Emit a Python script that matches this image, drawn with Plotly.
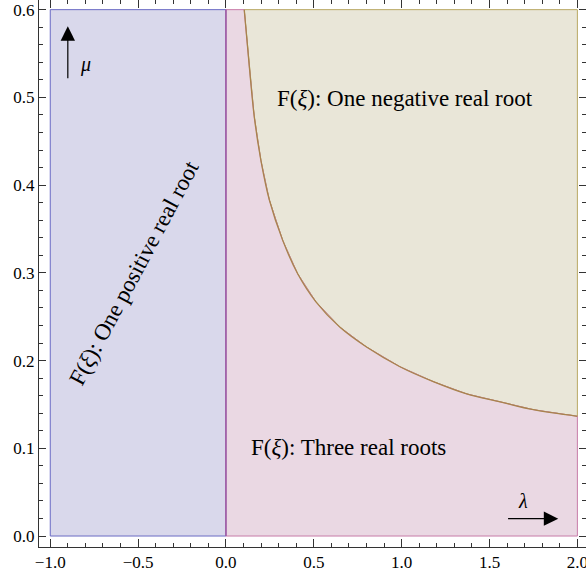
import plotly.graph_objects as go

# Region boundary
lam_curve = [0.104, 0.133, 0.161, 0.199, 0.247, 0.323, 0.408, 0.512, 0.649, 0.80, 0.99, 1.18, 1.37, 1.56, 1.75, 2.0]
mu_curve = [0.600, 0.535, 0.478, 0.428, 0.383, 0.337, 0.299, 0.267, 0.238, 0.2155, 0.193, 0.176, 0.162, 0.153, 0.144, 0.1365]

lam_min, lam_max = -1.0, 2.0
mu_min, mu_max = 0.0, 0.6

x_ticks = [-1.0, -0.5, 0.0, 0.5, 1.0, 1.5, 2.0]
x_ticklabels = ["\u22121.0", "\u22120.5", "0.0", "0.5", "1.0", "1.5", "2.0"]
y_ticks = [0.0, 0.1, 0.2, 0.3, 0.4, 0.5, 0.6]
y_ticklabels = ["0.0", "0.1", "0.2", "0.3", "0.4", "0.5", "0.6"]

FONT = "Liberation Serif, Times New Roman, serif"

fig = go.Figure()

# Region 1: lambda < 0 (lavender)
fig.add_trace(go.Scatter(
    x=[lam_min, 0.0, 0.0, lam_min, lam_min],
    y=[mu_min, mu_min, mu_max, mu_max, mu_min],
    fill="toself", fillcolor="#D9D8EB", mode="lines",
    line=dict(color="#6A6AC4", width=1), hoverinfo="skip", showlegend=False))

# Region 3: above curve (beige)
bx = lam_curve + [lam_max, lam_curve[0]]
by = mu_curve + [mu_max, mu_max]
fig.add_trace(go.Scatter(
    x=bx, y=by, fill="toself", fillcolor="#E9E6D8", mode="lines",
    line=dict(color="#B9A862", width=1), hoverinfo="skip", showlegend=False))

# Region 2: below curve (pink)
px_ = [0.0, lam_max] + lam_curve[::-1] + [0.0, 0.0]
py_ = [mu_min, mu_min] + mu_curve[::-1] + [mu_max, mu_min]
fig.add_trace(go.Scatter(
    x=px_, y=py_, fill="toself", fillcolor="#EAD8E3", mode="lines",
    line=dict(color="#C87BA8", width=1), hoverinfo="skip", showlegend=False))

# Boundary curve
fig.add_trace(go.Scatter(
    x=lam_curve, y=mu_curve, mode="lines", line=dict(color="#A8844C", width=1.3, shape="spline"),
    hoverinfo="skip", showlegend=False))
# Lambda = 0 boundary
fig.add_trace(go.Scatter(
    x=[0.0, 0.0], y=[mu_min, mu_max], mode="lines", line=dict(color="#9A5AA6", width=1.5),
    hoverinfo="skip", showlegend=False))

tf = dict(family=FONT, size=23, color="black")
fig.add_annotation(x=1.02, y=0.499, text="F(<i>\u03be</i>): One negative real root",
                   showarrow=False, font=tf)
fig.add_annotation(x=0.695, y=0.101, text="F(<i>\u03be</i>): Three real roots",
                   showarrow=False, font=tf)
fig.add_annotation(x=-0.52, y=0.30, text="F(<i>\u03be</i>): One positive real root",
                   showarrow=False, font=tf, textangle=-62)

# Axis arrows
fig.add_annotation(x=-0.9, y=0.581, ax=-0.9, ay=0.52, xref="x", yref="y", axref="x", ayref="y",
                   text="", showarrow=True, arrowhead=2, arrowsize=2.4, arrowwidth=1.2, arrowcolor="black")
fig.add_annotation(x=-0.8, y=0.537, text="<i>\u03bc</i>", showarrow=False,
                   font=dict(family=FONT, size=20, color="black"))
fig.add_annotation(x=1.891, y=0.0198, ax=1.597, ay=0.0198, xref="x", yref="y", axref="x", ayref="y",
                   text="", showarrow=True, arrowhead=2, arrowsize=2.4, arrowwidth=1.2, arrowcolor="black")
fig.add_annotation(x=1.693, y=0.04, text="<i>\u03bb</i>", showarrow=False,
                   font=dict(family=FONT, size=20, color="black"))

axis_common = dict(showgrid=False, zeroline=False, showline=True, mirror="ticks",
                   linecolor="#333333", linewidth=1, ticks="inside", tickcolor="#333333",
                   automargin=False, ticklabeloverflow="allow",
                   tickfont=dict(family=FONT, size=17, color="black"))

fig.update_xaxes(range=[-1.064, 2.049], tickvals=x_ticks, ticktext=x_ticklabels, ticklen=8,
                 minor=dict(ticks="inside", dtick=0.1, tick0=0, ticklen=4, tickcolor="#333333"),
                 **axis_common)
fig.update_yaxes(range=[-0.0125, 0.611], tickvals=y_ticks, ticktext=y_ticklabels, ticklen=7,
                 minor=dict(ticks="inside", dtick=0.02, tick0=0, ticklen=4, tickcolor="#333333"),
                 **axis_common)

fig.update_layout(width=586, height=573, margin=dict(l=39, r=0, t=0, b=26),
                  plot_bgcolor="white", paper_bgcolor="white")

fig.write_html("out.html", config={"displayModeBar": False},
               post_script="document.body.style.margin='0';document.body.style.overflow='hidden';")
